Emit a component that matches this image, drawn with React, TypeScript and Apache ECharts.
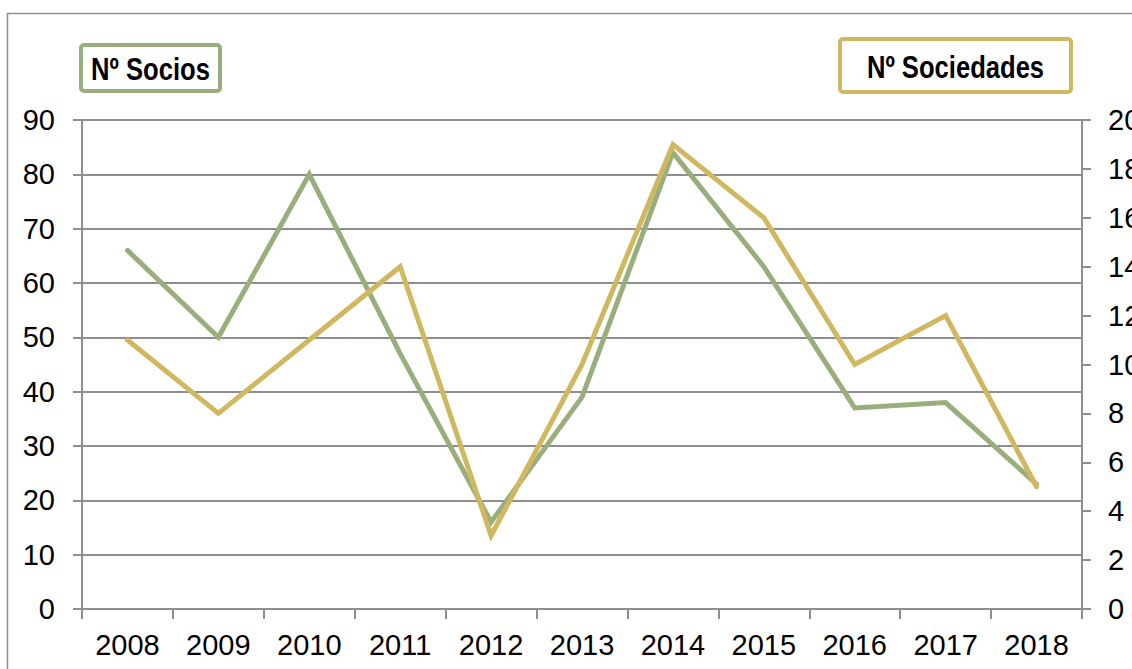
import React, { useEffect, useRef } from "react";
import * as echarts from "echarts";

const years = ["2008", "2009", "2010", "2011", "2012", "2013", "2014", "2015", "2016", "2017", "2018"];
const socios = [66, 50, 80, 47, 16, 39, 84, 63, 37, 38, 23];
const sociedades = [11, 8, 11, 14, 3, 10, 19, 16, 10, 12, 5];
const leftTicks = { min: 0, max: 90, interval: 10 };
const rightTicks = { min: 0, max: 20, interval: 2 };
const sociosLabel = "Nº Socios";
const sociedadesLabel = "Nº Sociedades";

const GREEN = "#9aae7d";
const GOLD = "#cfb85f";
const GRAY = "#8e8e8e";
const FONT = "'Liberation Sans', Arial, sans-serif";

export default function App() {
  const ref = useRef<HTMLDivElement>(null);
  useEffect(() => {
    if (!ref.current) return;
    const chart = echarts.init(ref.current, null, { renderer: "svg" });
    const labelStyle = { color: "#000", fontSize: 29, fontFamily: FONT };
    chart.setOption({
      animation: false,
      backgroundColor: "#fff",
      grid: {
        left: 82,
        right: 50,
        top: 120,
        bottom: 60,
        containLabel: false,
        outerBoundsMode: "none",
      },
      xAxis: {
        type: "category",
        data: years,
        boundaryGap: true,
        axisLine: { lineStyle: { color: GRAY, width: 2 } },
        axisTick: { show: true, alignWithLabel: false, interval: 0, length: 10, lineStyle: { color: GRAY, width: 2 } },
        axisLabel: { ...labelStyle, margin: 21, interval: 0, hideOverlap: false },
      },
      yAxis: [
        {
          type: "value",
          ...leftTicks,
          position: "left",
          axisLine: { show: true, lineStyle: { color: GRAY, width: 2 } },
          axisTick: { show: true, length: 9, lineStyle: { color: GRAY, width: 2 } },
          axisLabel: { ...labelStyle, margin: 27 },
          splitLine: { show: true, lineStyle: { color: GRAY, width: 2 } },
        },
        {
          type: "value",
          ...rightTicks,
          position: "right",
          axisLine: { show: true, lineStyle: { color: GRAY, width: 2 } },
          axisTick: { show: true, length: 9, lineStyle: { color: GRAY, width: 2 } },
          axisLabel: { ...labelStyle, margin: 26 },
          splitLine: { show: false },
        },
      ],
      series: [
        {
          name: sociosLabel,
          type: "line",
          yAxisIndex: 0,
          data: socios,
          symbol: "none",
          lineStyle: { color: GREEN, width: 5, cap: "round", join: "miter" },
          itemStyle: { color: GREEN },
        },
        {
          name: sociedadesLabel,
          type: "line",
          yAxisIndex: 1,
          data: sociedades,
          symbol: "none",
          lineStyle: { color: GOLD, width: 5, cap: "round", join: "miter" },
          itemStyle: { color: GOLD },
        },
      ],
      graphic: [
        {
          type: "rect",
          silent: true,
          shape: { x: 7.5, y: 13.5, width: 1300, height: 800 },
          style: { fill: "none", stroke: GRAY, lineWidth: 1.5 },
          z: -1,
        },
        {
          type: "group",
          left: 79,
          top: 43,
          children: [
            {
              type: "rect",
              shape: { x: 2, y: 2, width: 139, height: 46, r: 3 },
              style: { fill: "#fff", stroke: GREEN, lineWidth: 4 },
            },
            {
              type: "text",
              x: 71.5,
              y: 26,
              scaleX: 0.8,
              style: {
                text: sociosLabel,
                fontFamily: FONT,
                fontWeight: "bold",
                fontSize: 32,
                fill: "#000",
                align: "center",
                verticalAlign: "middle",
              },
            },
          ],
        },
        {
          type: "group",
          left: 838,
          top: 37,
          children: [
            {
              type: "rect",
              shape: { x: 2, y: 2, width: 231, height: 53, r: 3 },
              style: { fill: "#fff", stroke: GOLD, lineWidth: 4 },
            },
            {
              type: "text",
              x: 117.5,
              y: 30,
              scaleX: 0.8,
              style: {
                text: sociedadesLabel,
                fontFamily: FONT,
                fontWeight: "bold",
                fontSize: 32,
                fill: "#000",
                align: "center",
                verticalAlign: "middle",
              },
            },
          ],
        },
      ],
    });
    return () => chart.dispose();
  }, []);
  return (
    <div
      ref={ref}
      style={{ position: "fixed", left: 0, top: 0, width: 1132, height: 669 }}
    />
  );
}
